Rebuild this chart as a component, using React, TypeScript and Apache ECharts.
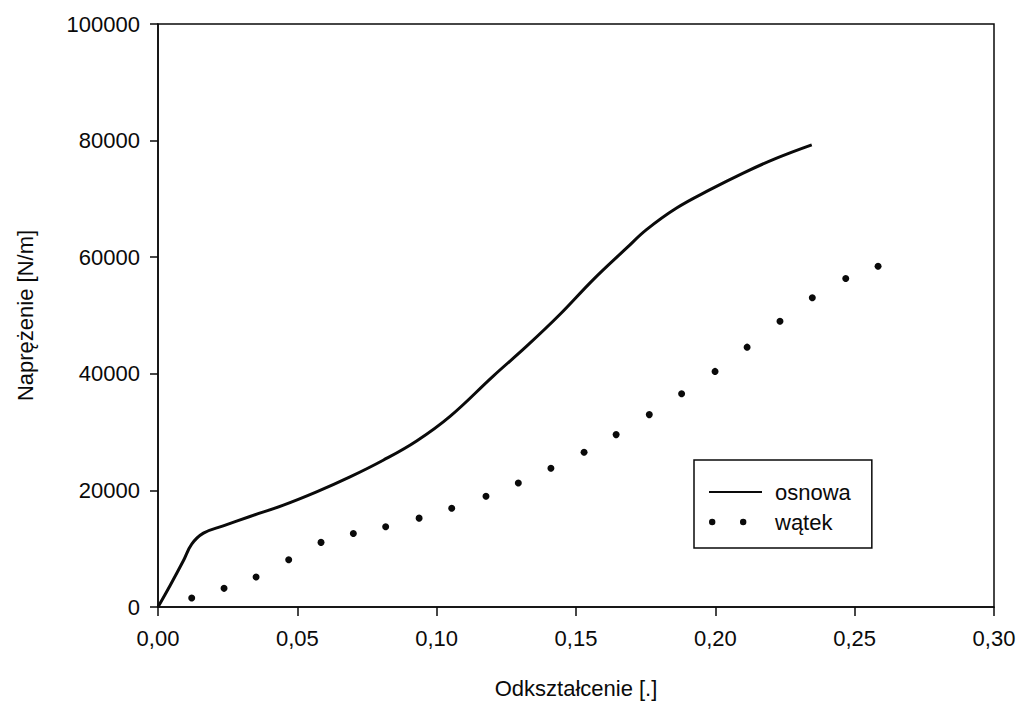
import React, { useEffect, useRef } from "react";
import * as echarts from "echarts";

const osnowaX = [0, 0.0043, 0.0091, 0.0121, 0.0163, 0.0234, 0.033, 0.045, 0.0569, 0.0689, 0.0808, 0.0928, 0.1048, 0.1203, 0.1323, 0.1442, 0.1562, 0.1682, 0.1753, 0.1861, 0.1981, 0.21, 0.222, 0.2346];
const osnowaY = [0, 3650, 7930, 10790, 12670, 13920, 15530, 17470, 19740, 22310, 25170, 28480, 32700, 39610, 44740, 50170, 56160, 61590, 64730, 68440, 71580, 74430, 77000, 79280];

const watekX = [0.0121, 0.0237, 0.0352, 0.0469, 0.0585, 0.0701, 0.0817, 0.0937, 0.1054, 0.1177, 0.1293, 0.141, 0.1529, 0.1644, 0.1763, 0.1879, 0.1999, 0.2114, 0.2232, 0.2348, 0.2468, 0.2584];
const watekY = [1540, 3200, 5140, 8100, 11080, 12620, 13750, 15240, 16950, 19000, 21280, 23800, 26540, 29570, 33000, 36590, 40410, 44570, 49020, 53030, 56340, 58440];

const seriesNames = ["osnowa", "wątek"];
const xTitle = "Odkształcenie [.]";
const yTitle = "Naprężenie [N/m]";

const FONT = "'Liberation Sans', Arial, sans-serif";
const INK = "#0a0a0a";

export default function App() {
  const ref = useRef<HTMLDivElement>(null);
  useEffect(() => {
    if (!ref.current) return;
    const chart = echarts.init(ref.current, undefined, { renderer: "svg" });
    chart.setOption({
      animation: false,
      backgroundColor: "#ffffff",
      textStyle: { fontFamily: FONT, color: INK },
      grid: {
        left: 158,
        top: 24,
        right: 25,
        bottom: 96,
        show: true,
        borderColor: INK,
        borderWidth: 1.5,
        containLabel: false,
      },
      legend: {
        left: 694,
        top: 460,
        orient: "vertical",
        backgroundColor: "#fff",
        borderColor: INK,
        borderWidth: 1.5,
        padding: [21, 21, 15, 15],
        itemGap: 8,
        itemWidth: 53,
        itemHeight: 21,
        textStyle: { fontFamily: FONT, fontSize: 22, color: INK, padding: [0, 0, 0, 8] },
        data: [
          { name: seriesNames[0], icon: "path://M0,9.5 L53,9.5 L53,11.5 L0,11.5 Z M0,0 L0.01,0 Z M53,21 L53.01,21 Z" },
          {
            name: seriesNames[1],
            icon: "path://M0,10.5 a3.2,3.2 0 1,0 6.4,0 a3.2,3.2 0 1,0 -6.4,0 Z M31,10.5 a3.2,3.2 0 1,0 6.4,0 a3.2,3.2 0 1,0 -6.4,0 Z M0,0 L0.01,0 Z M53,21 L53.01,21 Z",
          },
        ],
      },
      xAxis: {
        type: "value",
        min: 0,
        max: 0.3,
        interval: 0.05,
        name: xTitle,
        nameLocation: "middle",
        nameGap: 70,
        nameTextStyle: { fontFamily: FONT, fontSize: 22, color: INK },
        axisLine: { show: true, lineStyle: { color: INK, width: 1.5 } },
        axisTick: { show: true, length: 9, lineStyle: { color: INK, width: 1.5 } },
        axisLabel: {
          fontFamily: FONT,
          fontSize: 22,
          color: INK,
          margin: 20,
          formatter: (v: number) => v.toFixed(2).replace(".", ","),
        },
        splitLine: { show: false },
      },
      yAxis: {
        type: "value",
        min: 0,
        max: 100000,
        interval: 20000,
        name: yTitle,
        nameLocation: "middle",
        nameGap: 122,
        nameTextStyle: { fontFamily: FONT, fontSize: 22, color: INK },
        axisLine: { show: true, lineStyle: { color: INK, width: 1.5 } },
        axisTick: { show: true, length: 8, lineStyle: { color: INK, width: 1.5 } },
        axisLabel: {
          fontFamily: FONT,
          fontSize: 22,
          color: INK,
          margin: 18,
          formatter: (v: number) => String(v),
        },
        splitLine: { show: false },
      },
      series: [
        {
          name: seriesNames[0],
          type: "line",
          smooth: 0.4,
          showSymbol: false,
          symbol: "none",
          lineStyle: { color: INK, width: 3 },
          itemStyle: { color: INK },
          data: osnowaX.map((x, i) => [x, osnowaY[i]]),
          z: 3,
        },
        {
          name: seriesNames[1],
          type: "scatter",
          symbol: "circle",
          symbolSize: 7,
          itemStyle: { color: INK, opacity: 1 },
          data: watekX.map((x, i) => [x, watekY[i]]),
          z: 3,
        },
      ],
    });
    return () => chart.dispose();
  }, []);
  return (
    <div
      ref={ref}
      style={{ position: "fixed", left: 0, top: 0, width: 1019, height: 704, background: "#fff" }}
    />
  );
}
